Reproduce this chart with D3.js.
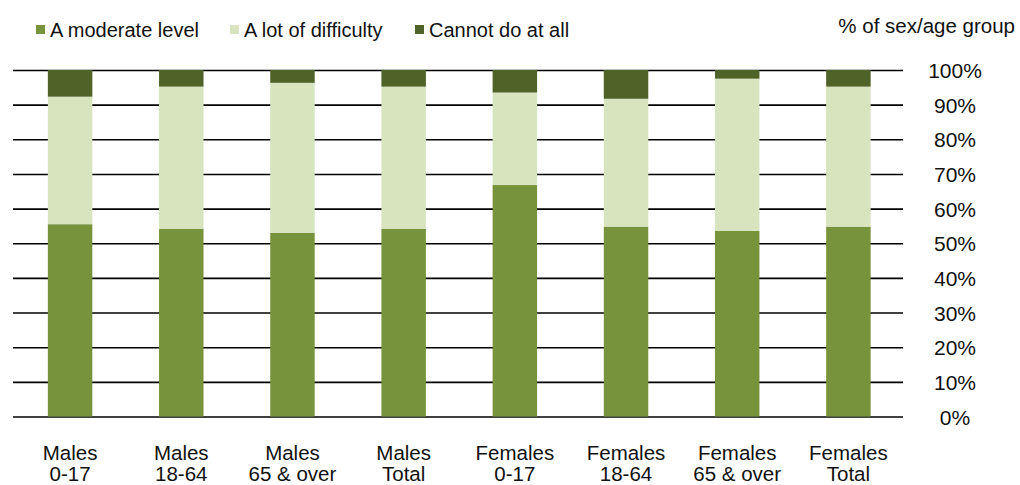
<!DOCTYPE html>
<html>
<head>
<meta charset="utf-8">
<script src="https://cdn.jsdelivr.net/npm/d3@7"></script>
<style>
  html, body { margin: 0; padding: 0; background: #fff; }
  svg { display: block; font-family: "Liberation Sans", Arial, sans-serif; }
</style>
</head>
<body>
<svg id="chart" width="1020" height="485"></svg>
<script>
const categories = ["Males|0-17", "Males|18-64", "Males|65 & over", "Males|Total",
                    "Females|0-17", "Females|18-64", "Females|65 & over", "Females|Total"];
const seriesNames = ["A moderate level", "A lot of difficulty", "Cannot do at all"];
const moderate  = [55.5, 54.2, 53.0, 54.2, 66.8, 54.8, 53.6, 54.8];
const aLot      = [36.8, 41.0, 43.3, 41.0, 26.7, 36.9, 43.9, 40.4];
const cannot    = [7.7, 4.8, 3.7, 4.8, 6.5, 8.3, 2.5, 4.8];
const yTicks    = [0, 10, 20, 30, 40, 50, 60, 70, 80, 90, 100];
const colors    = ["#77933C", "#D7E4BD", "#4F6228"];
const axisTitle = "% of sex/age group";

const rows = categories.map((c, i) => ({
  cat: c,
  "A moderate level": moderate[i],
  "A lot of difficulty": aLot[i],
  "Cannot do at all": cannot[i]
}));

const svg = d3.select("#chart");
const plotLeft = 13, plotRight = 903, plotTop = 70, plotBottom = 416.5;

const x = d3.scaleBand().domain(categories).range([plotLeft + 1.5, plotRight + 1])
  .paddingInner(0.6).paddingOuter(0.3);
const y = d3.scaleLinear().domain([0, 100]).range([plotBottom, plotTop]);
const color = d3.scaleOrdinal().domain(seriesNames).range(colors);

// gridlines + right axis labels
const yAxis = svg.append("g")
  .attr("transform", `translate(${plotRight},0)`)
  .call(d3.axisRight(y).tickValues(yTicks).tickSize(-(plotRight - plotLeft)).tickFormat(d => d + "%"));
yAxis.select(".domain").remove();
yAxis.selectAll(".tick line").attr("stroke", "#000").attr("stroke-width", 1.6);
yAxis.selectAll(".tick text")
  .attr("x", 52).attr("dy", "0.36em")
  .attr("text-anchor", "middle")
  .attr("fill", "#111")
  .style("font-size", "21px");

// stacked bars
const stacked = d3.stack().keys(seriesNames)(rows);
svg.append("g").selectAll("g").data(stacked).join("g")
  .attr("fill", d => color(d.key))
  .selectAll("rect").data(d => d).join("rect")
  .attr("x", d => x(d.data.cat))
  .attr("width", x.bandwidth())
  .attr("y", d => y(d[1]))
  .attr("height", d => y(d[0]) - y(d[1]));

// x labels
const xl = svg.append("g").selectAll("text").data(categories).join("text")
  .attr("x", d => x(d) + x.bandwidth() / 2)
  .attr("y", 459.5)
  .attr("text-anchor", "middle")
  .attr("fill", "#111")
  .style("font-size", "20.5px");
xl.append("tspan").attr("x", d => x(d) + x.bandwidth() / 2).text(d => d.split("|")[0]);
xl.append("tspan").attr("x", d => x(d) + x.bandwidth() / 2).attr("dy", 21.5).text(d => d.split("|")[1]);

// legend
const legendX = [36, 230, 415];
const lg = svg.append("g").selectAll("g").data(seriesNames).join("g")
  .attr("transform", (d, i) => `translate(${legendX[i]},25)`);
lg.append("rect").attr("width", 9).attr("height", 9).attr("fill", d => color(d));
lg.append("text").attr("x", 14).attr("y", 11.7)
  .attr("fill", "#111").style("font-size", "20px").text(d => d);

// axis title
svg.append("text").attr("x", 1015).attr("y", 33)
  .attr("text-anchor", "end").attr("fill", "#111")
  .style("font-size", "20.5px").text(axisTitle);
</script>
</body>
</html>
